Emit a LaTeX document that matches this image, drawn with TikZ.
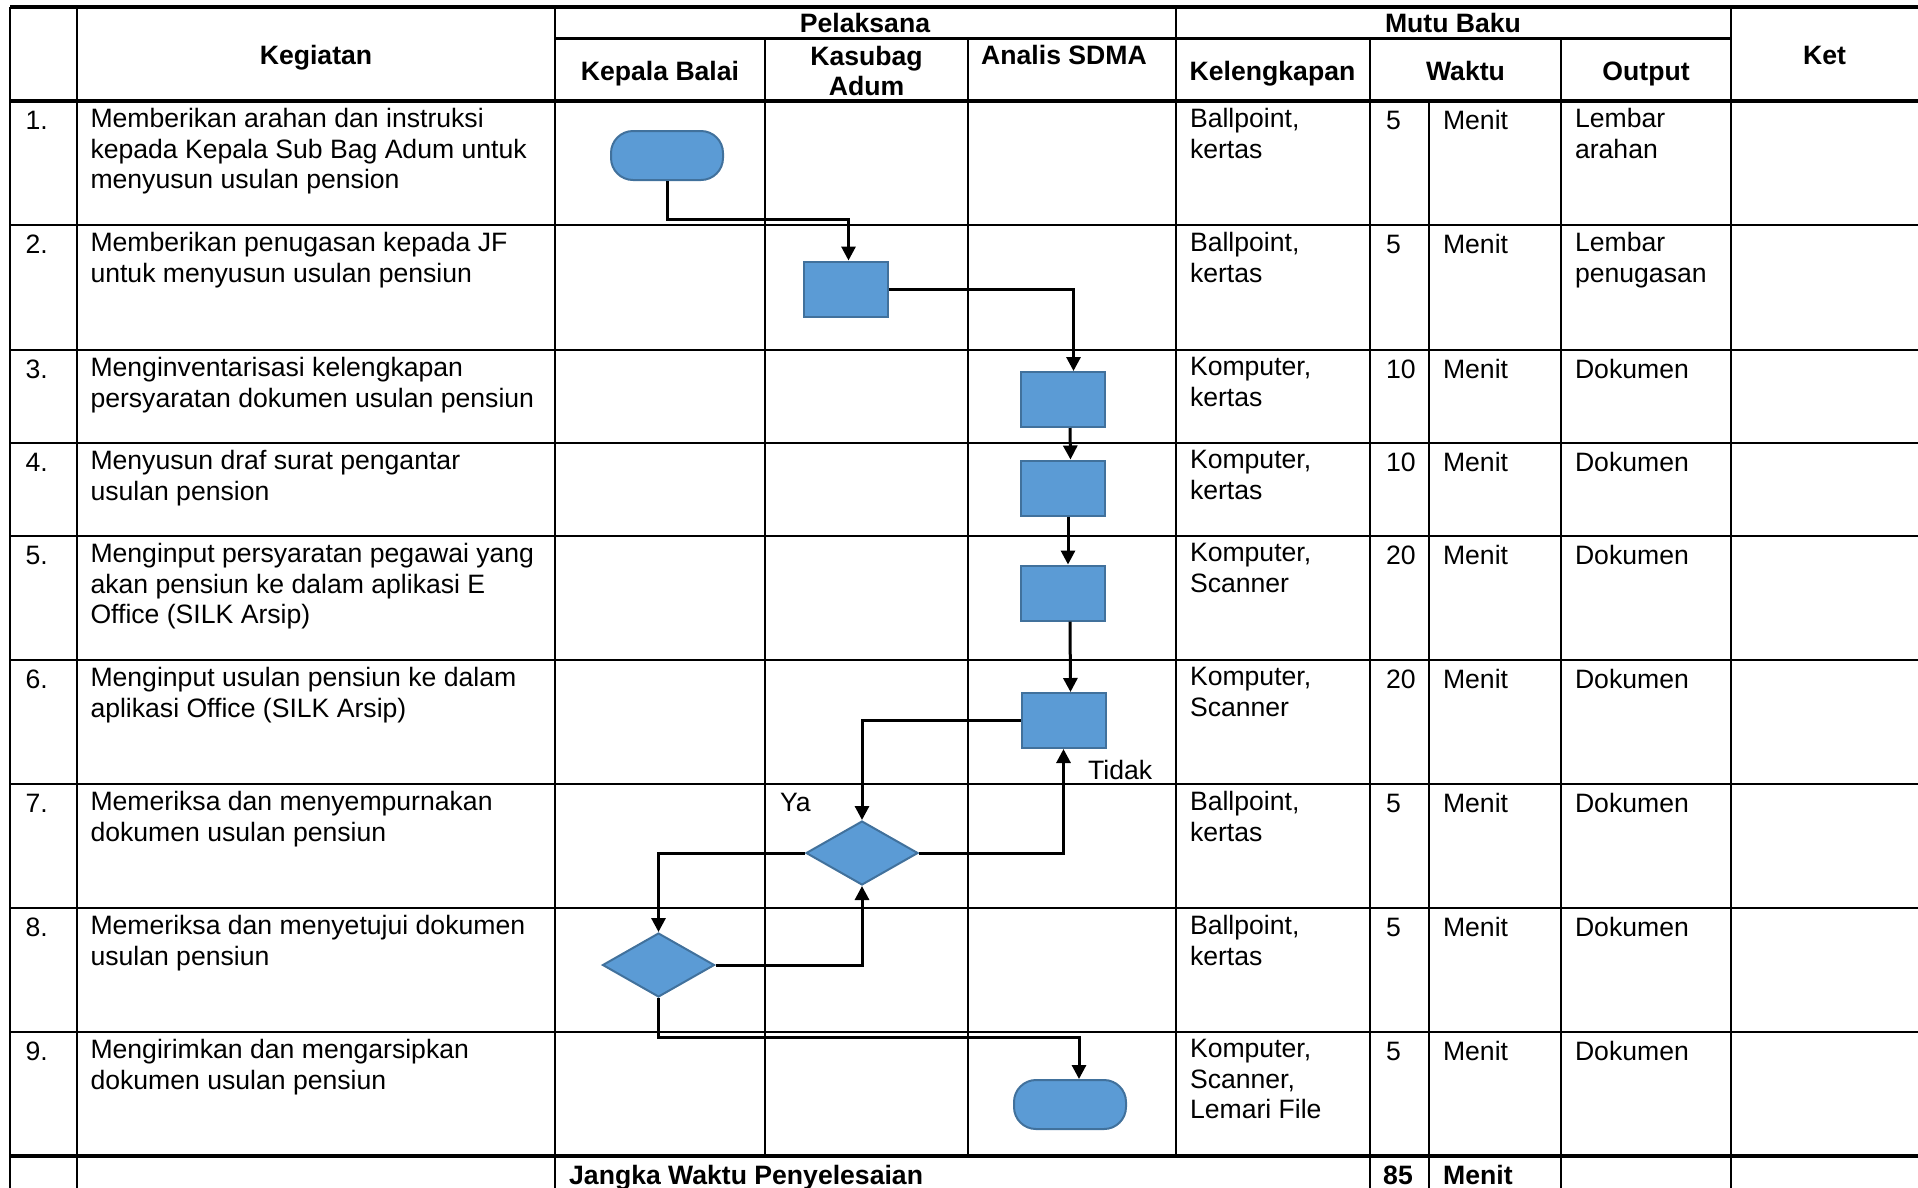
\documentclass[tikz,border=0pt]{standalone}
\usepackage{fontspec}
\setmainfont{Liberation Sans}
\usetikzlibrary{arrows.meta,shapes.geometric}
\definecolor{shapefill}{HTML}{5B9BD5}
\definecolor{shapeline}{HTML}{41719C}
\newcommand{\cf}{\fontsize{26.6}{30.6}\selectfont}
\newcommand{\trow}[6]{%
  \node[txt] (num#2) at (25.5,{#1+7.3}) {#2.};
  \node[txt] (keg#2) at (90.5,{#1+7.3}) {#3};
  \node[txt] (kel#2) at (1190,{#1+7.3}) {#4};
  \node[txt] (wak#2) at (1386,{#1+7.3}) {#5};
  \node[txt] (men#2) at (1443,{#1+7.3}) {Menit};
  \node[txt] (out#2) at (1575,{#1+7.3}) {#6};
}
\begin{document}
\begin{tikzpicture}[x=1pt,y=-1pt,
  grid/.style={line width=2.2pt, black},
  gridthick/.style={line width=3.6pt, black},
  txt/.style={anchor=north west, inner sep=0pt, outer sep=0pt, align=left, font=\cf, execute at begin node=\strut},
  hdr/.style={anchor=base, inner sep=0pt, font=\cf\bfseries},
  proc/.style={draw=shapeline, fill=shapefill, line width=2pt, minimum width=84pt, minimum height=55pt, inner sep=0pt},
  term/.style={proc, rounded corners=22pt, minimum width=112pt, minimum height=49pt},
  dec/.style={diamond, draw=shapeline, fill=shapefill, line width=2pt, minimum width=112pt, minimum height=64pt, inner sep=0pt},
  arr/.style={line width=3pt, -{Triangle[length=14pt,width=14pt]}},
  lbl/.style={anchor=base west, inner sep=0pt, font=\cf}
]
\useasboundingbox (0,0) rectangle (1918,1187);

% table grid
\draw[gridthick] (10,7) -- (1925,7);
\draw[grid] (555,38.5) -- (1731,38.5);
\draw[gridthick] (10,101) -- (1925,101);
\foreach \y in {225,350,443,536,660,784,908,1032} \draw[grid] (10,\y) -- (1925,\y);
\draw[gridthick] (10,1156) -- (1925,1156);
\foreach \x in {10,77,555,1731} \draw[grid] (\x,7) -- (\x,1195);
\draw[grid] (1176,7) -- (1176,1156);
\foreach \x in {765,968} \draw[grid] (\x,38.5) -- (\x,1156);
\foreach \x in {1370,1561} \draw[grid] (\x,38.5) -- (\x,1195);
\draw[grid] (1429,101) -- (1429,1195);

% header
\node[hdr] (hkeg) at (316,64.5) {Kegiatan};
\node[hdr] (hpel) at (865,32.5) {Pelaksana};
\node[hdr] (hmutu) at (1453,32.5) {Mutu Baku};
\node[hdr] (hket) at (1824.5,64.5) {Ket};
\node[hdr] (hkb) at (660,80.5) {Kepala Balai};
\node[hdr, anchor=north, align=center, execute at begin node=\strut] (hks) at (866.5,45.6) {Kasubag\\Adum};
\node[hdr] (hsdma) at (1064,64.5) {Analis SDMA};
\node[hdr] (hkel) at (1272.5,80.5) {Kelengkapan};
\node[hdr] (hwak) at (1465.5,80.5) {Waktu};
\node[hdr] (hout) at (1646,80.5) {Output};

% rows
\trow{101}{1}{Memberikan arahan dan instruksi\\kepada Kepala Sub Bag Adum untuk\\menyusun usulan pension}{Ballpoint,\\kertas}{5}{Lembar\\arahan}
\trow{225}{2}{Memberikan penugasan kepada JF\\untuk menyusun usulan pensiun}{Ballpoint,\\kertas}{5}{Lembar\\penugasan}
\trow{350}{3}{Menginventarisasi kelengkapan\\persyaratan dokumen usulan pensiun}{Komputer,\\kertas}{10}{Dokumen}
\trow{443}{4}{Menyusun draf surat pengantar\\usulan pension}{Komputer,\\kertas}{10}{Dokumen}
\trow{536}{5}{Menginput persyaratan pegawai yang\\akan pensiun ke dalam aplikasi E\\Office (SILK Arsip)}{Komputer,\\Scanner}{20}{Dokumen}
\trow{660}{6}{Menginput usulan pensiun ke dalam\\aplikasi Office (SILK Arsip)}{Komputer,\\Scanner}{20}{Dokumen}
\trow{784}{7}{Memeriksa dan menyempurnakan\\dokumen usulan pensiun}{Ballpoint,\\kertas}{5}{Dokumen}
\trow{908}{8}{Memeriksa dan menyetujui dokumen\\usulan pensiun}{Ballpoint,\\kertas}{5}{Dokumen}
\trow{1032}{9}{Mengirimkan dan mengarsipkan\\dokumen usulan pensiun}{Komputer,\\Scanner,\\Lemari File}{5}{Dokumen}

% total row
\node[lbl, font=\cf\bfseries] (jangka) at (569,1184) {Jangka Waktu Penyelesaian};
\node[lbl, font=\cf\bfseries] (tot) at (1383,1184) {85};
\node[lbl, font=\cf\bfseries] (totm) at (1443,1184) {Menit};

% flow shapes
\node[term] (t1) at (667,155.5) {};
\node[proc] (r2) at (845.5,289) {};
\node[proc] (r3) at (1062.5,399.5) {};
\node[proc] (r4) at (1063,488) {};
\node[proc] (r5) at (1063,593) {};
\node[proc] (r6) at (1063.5,720.5) {};
\node[dec] (d7) at (862,853) {};
\node[dec] (d8) at (658.5,965) {};
\node[term] (t9) at (1070,1104.5) {};

% labels
\node[lbl] (ya) at (780,811) {Ya};
\node[lbl] (tidak) at (1088,779) {Tidak};

% connectors
\draw[arr] (t1.south) -- ++(0,38) -| ([xshift=3pt]r2.north);
\draw[arr] (r2.east) -| ([xshift=11pt]r3.north);
\draw[arr] ([xshift=7.5pt]r3.south) -- ([xshift=7.5pt]r4.north);
\draw[arr] ([xshift=5pt]r4.south) -- ([xshift=5pt]r5.north);
\draw[arr] ([xshift=7pt]r5.south) -- ([xshift=7pt]r6.north);
\draw[arr] (r6.west) -| (d7.north);
\draw[arr] (d7.east) -| (r6.south);
\draw[arr] (d7.west) -| (d8.north);
\draw[arr] (d8.east) -| (d7.south);
\draw[arr] (d8.south) -- ++(0,39) -| ([xshift=9pt]t9.north);
\end{tikzpicture}
\end{document}
